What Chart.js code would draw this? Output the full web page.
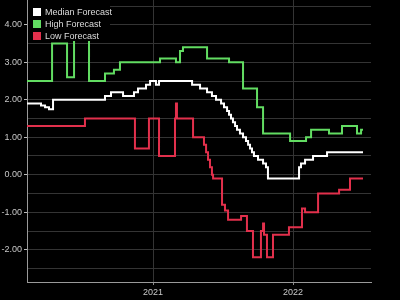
<!DOCTYPE html>
<html>
<head>
<meta charset="utf-8">
<script src="https://cdn.jsdelivr.net/npm/chart.js@4"></script>
<style>
  html, body { margin: 0; padding: 0; background: #000; }
  canvas { display: block; }
</style>
</head>
<body>
<canvas id="forecastChart" width="400" height="300"></canvas>
<script>
// dates as decimal years, values in percent
var seriesLabels = ["Median Forecast", "High Forecast", "Low Forecast"];
var xTickYears = [2021, 2022];

var highX = [2020.100, 2020.279, 2020.386, 2020.436, 2020.543, 2020.657, 2020.721, 2020.764, 2021.050, 2021.164, 2021.193, 2021.214, 2021.386, 2021.543, 2021.643, 2021.743, 2021.786, 2021.979, 2022.093, 2022.129, 2022.257, 2022.350, 2022.457, 2022.486, 2022.500];
var highY = [2.5, 3.5, 2.6, 4.0, 2.5, 2.7, 2.8, 3.0, 3.1, 3.0, 3.3, 3.4, 3.1, 3.0, 2.3, 1.8, 1.1, 0.9, 1.0, 1.2, 1.1, 1.3, 1.1, 1.2, 1.2];

var medianX = [2020.100, 2020.200, 2020.229, 2020.257, 2020.286, 2020.657, 2020.700, 2020.786, 2020.864, 2020.893, 2020.950, 2020.979, 2021.021, 2021.043, 2021.279, 2021.336, 2021.386, 2021.421, 2021.450, 2021.486, 2021.507, 2021.529, 2021.543, 2021.557, 2021.571, 2021.586, 2021.600, 2021.621, 2021.643, 2021.664, 2021.679, 2021.693, 2021.707, 2021.721, 2021.750, 2021.786, 2021.807, 2021.821, 2022.043, 2022.057, 2022.086, 2022.143, 2022.243, 2022.500];
var medianY = [1.9, 1.85, 1.8, 1.75, 2.0, 2.1, 2.2, 2.1, 2.2, 2.3, 2.4, 2.5, 2.4, 2.5, 2.4, 2.3, 2.2, 2.1, 2.0, 1.9, 1.8, 1.7, 1.6, 1.5, 1.4, 1.3, 1.2, 1.1, 1.0, 0.9, 0.8, 0.7, 0.6, 0.5, 0.4, 0.3, 0.2, -0.1, 0.2, 0.3, 0.4, 0.5, 0.6, 0.6];

var lowX = [2020.100, 2020.514, 2020.871, 2020.971, 2021.043, 2021.157, 2021.164, 2021.171, 2021.286, 2021.364, 2021.379, 2021.393, 2021.407, 2021.421, 2021.429, 2021.493, 2021.514, 2021.536, 2021.629, 2021.671, 2021.714, 2021.771, 2021.786, 2021.793, 2021.814, 2021.857, 2021.971, 2022.064, 2022.086, 2022.179, 2022.329, 2022.407, 2022.500];
var lowY = [1.3, 1.5, 0.7, 1.5, 0.5, 1.5, 1.9, 1.5, 1.0, 0.8, 0.6, 0.4, 0.2, 0.0, -0.1, -0.8, -0.95, -1.2, -1.1, -1.5, -2.2, -1.5, -1.3, -1.6, -2.2, -1.6, -1.4, -0.9, -1.0, -0.5, -0.4, -0.1, -0.1];

function toPoints(xs, ys) {
  return xs.map(function (x, i) {
    return { x: x, y: ys[i] };
  });
}

function isWhole(v) {
  return Math.abs(v - Math.round(v)) < 1e-6;
}

Chart.defaults.font.family = "'Liberation Sans', Arial, sans-serif";
Chart.defaults.font.size = 9;
Chart.defaults.color = "#c8c8c8";

// legend sits on a black box inside the plot, over the lines
var boxLegend = {
  id: "boxLegend",
  afterDatasetsDraw: function (chart) {
    var ctx = chart.ctx;
    ctx.save();
    ctx.fillStyle = "#000";
    ctx.fillRect(chart.chartArea.left + 1, 0, 82, 41);
    ctx.font = "9px 'Liberation Sans', Arial, sans-serif";
    ctx.textBaseline = "middle";
    chart.data.datasets.forEach(function (ds, i) {
      var y = 8 + i * 12;
      ctx.fillStyle = ds.borderColor;
      ctx.fillRect(33, y, 8, 8);
      ctx.fillStyle = "#dcdcdc";
      ctx.fillText(ds.label, 45, y + 4.5);
    });
    ctx.restore();
  },
};

var config = {
  type: "line",
  data: {
    datasets: [
      {
        label: seriesLabels[0],
        data: toPoints(medianX, medianY),
        borderColor: "#ffffff",
      },
      {
        label: seriesLabels[1],
        data: toPoints(highX, highY),
        borderColor: "#62dc62",
      },
      {
        label: seriesLabels[2],
        data: toPoints(lowX, lowY),
        borderColor: "#e2304c",
      },
    ],
  },
  options: {
    responsive: false,
    animation: false,
    devicePixelRatio: 1,
    layout: { padding: { left: 0, right: 29, top: 0, bottom: 0 } },
    elements: {
      point: { radius: 0 },
      line: { borderWidth: 2, stepped: true, tension: 0 },
    },
    plugins: {
      legend: { display: false },
      tooltip: { enabled: false },
    },
    scales: {
      x: {
        type: "linear",
        min: 2020.1,
        max: 2022.557,
        afterBuildTicks: function (axis) {
          axis.ticks = xTickYears.map(function (v) {
            return { value: v };
          });
        },
        afterFit: function (scale) {
          scale.height = 18;
          scale.paddingLeft = 0;
          scale.paddingRight = 0;
        },
        ticks: {
          padding: 2,
          maxRotation: 0,
          callback: function (v) {
            return String(v);
          },
        },
        grid: {
          color: "#343434",
          tickColor: "#8a8a8a",
          tickLength: 3,
        },
        border: { color: "#9a9a9a", width: 1 },
      },
      y: {
        min: -2.86,
        max: 4.66,
        afterFit: function (scale) {
          scale.width = 27;
          scale.paddingTop = 0;
          scale.paddingBottom = 0;
        },
        ticks: {
          stepSize: 0.5,
          includeBounds: false,
          padding: 2,
          callback: function (v) {
            return isWhole(v) ? v.toFixed(2) : "";
          },
        },
        grid: {
          color: "#343434",
          tickLength: 3,
          tickColor: function (c) {
            return c.tick && isWhole(c.tick.value) ? "#bdbdbd" : "rgba(0,0,0,0)";
          },
        },
        border: { color: "#9a9a9a", width: 1 },
      },
    },
  },
  plugins: [boxLegend],
};

var forecastChart = new Chart(document.getElementById("forecastChart"), config);
</script>
</body>
</html>
